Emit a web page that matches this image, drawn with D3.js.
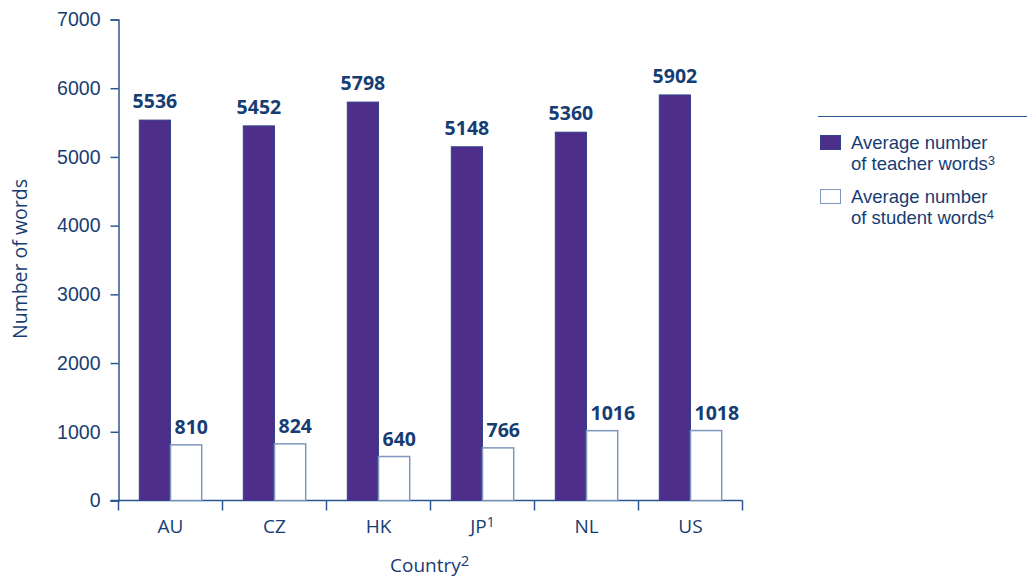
<!DOCTYPE html>
<html>
<head>
<meta charset="utf-8">
<script src="https://cdn.jsdelivr.net/npm/d3@7"></script>
<style>
  html, body { margin: 0; padding: 0; background: #fff; }
  svg { display: block; font-family: "Open Sans", "Noto Sans", sans-serif; }
  .legend-text { font-family: "Liberation Sans", Arial, sans-serif; }
</style>
</head>
<body>
<svg id="chart" width="1027" height="578"></svg>
<script>
// Word counts per lesson, by country
const countries = ["AU", "CZ", "HK", "JP", "NL", "US"];
const countrySup = ["", "", "", "1", "", ""];
const teacherWords = [5536, 5452, 5798, 5148, 5360, 5902];
const studentWords = [810, 824, 640, 766, 1016, 1018];
const yTicks = [0, 1000, 2000, 3000, 4000, 5000, 6000, 7000];

const textColor = "#163d73";
const axisColor = "#2b5890";
const teacherFill = "#4d2f8b";
const teacherStroke = "#33428a";
const barStroke = "#7d97bd";

const svg = d3.select("#chart");
const margin = { left: 118.5, top: 19.5, bottom: 500.5 };
const plotRight = 742.5;

const y = d3.scaleLinear().domain([0, 7000]).range([margin.bottom, margin.top]);
const x = d3.scaleBand().domain(countries).range([margin.left, plotRight]);
const barW = x.bandwidth() * 0.3;

// Y axis
const yAxis = svg.append("g")
  .attr("transform", `translate(${margin.left},0)`)
  .call(d3.axisLeft(y).tickValues(yTicks).tickSize(8).tickPadding(10).tickFormat(d3.format("d")));
yAxis.select(".domain").attr("stroke", axisColor).attr("stroke-width", 1.5);
yAxis.selectAll(".tick line").attr("stroke", axisColor).attr("stroke-width", 1.5);
yAxis.selectAll(".tick text")
  .attr("fill", textColor).style("font-size", "19.5px").attr("font-family", null);

// X axis: boundaries between countries carry the tick marks
const xAxisG = svg.append("g").attr("transform", `translate(0,${margin.bottom})`);
xAxisG.append("line")
  .attr("x1", margin.left - 8).attr("x2", plotRight)
  .attr("stroke", axisColor).attr("stroke-width", 1.5);
const bounds = countries.map(c => x(c)).concat([plotRight]);
xAxisG.selectAll("line.tk").data(bounds).join("line")
  .attr("class", "tk")
  .attr("x1", d => d).attr("x2", d => d)
  .attr("y1", 0).attr("y2", 10)
  .attr("stroke", axisColor).attr("stroke-width", 1.5);
const catLabels = xAxisG.selectAll("text.cat").data(countries).join("text")
  .attr("class", "cat")
  .attr("x", d => x(d) + x.bandwidth() / 2)
  .attr("y", 32.5)
  .attr("text-anchor", "middle")
  .attr("fill", textColor)
  .style("font-size", "19px")
  .text(d => d);
catLabels.append("tspan")
  .attr("dy", -6).style("font-size", "14px")
  .text((d, i) => countrySup[i]);

// Bars
const groups = svg.append("g").selectAll("g").data(countries).join("g")
  .attr("transform", d => `translate(${x(d) + x.bandwidth() / 2},0)`);

groups.append("rect")
  .attr("x", -barW).attr("width", barW)
  .attr("y", (d, i) => y(teacherWords[i]))
  .attr("height", (d, i) => y(0) - y(teacherWords[i]))
  .attr("fill", teacherFill).attr("stroke", teacherStroke).attr("stroke-width", 1);

groups.append("rect")
  .attr("x", 0).attr("width", barW)
  .attr("y", (d, i) => y(studentWords[i]))
  .attr("height", (d, i) => y(0) - y(studentWords[i]))
  .attr("fill", "#fff").attr("stroke", barStroke).attr("stroke-width", 1.5);

// Value labels
groups.append("text")
  .attr("x", -barW / 2)
  .attr("y", (d, i) => y(teacherWords[i]) - 12)
  .attr("text-anchor", "middle")
  .attr("fill", textColor).style("font-size", "19.5px").style("font-weight", "bold")
  .text((d, i) => teacherWords[i]);

groups.append("text")
  .attr("x", 4)
  .attr("y", (d, i) => y(studentWords[i]) - 11)
  .attr("text-anchor", "start")
  .attr("fill", textColor).style("font-size", "19.5px").style("font-weight", "bold")
  .text((d, i) => studentWords[i]);

// Axis titles
svg.append("text")
  .attr("transform", "translate(27,259) rotate(-90)")
  .attr("text-anchor", "middle")
  .attr("fill", textColor).style("font-size", "19.5px")
  .text("Number of words");

const xt = svg.append("text")
  .attr("x", 390).attr("y", 572)
  .attr("text-anchor", "start")
  .attr("fill", textColor).style("font-size", "19px")
  .text("Country");
xt.append("tspan").attr("dy", -6).style("font-size", "15px").text("2");

// Legend
const legend = svg.append("g");
legend.append("line")
  .attr("x1", 818).attr("x2", 1027).attr("y1", 116.5).attr("y2", 116.5)
  .attr("stroke", axisColor).attr("stroke-width", 1.2);

const legendItems = [
  { fill: teacherFill, stroke: teacherStroke, line1: "Average number", line2: "of teacher words", sup: "3", top: 135 },
  { fill: "#fff", stroke: barStroke, line1: "Average number", line2: "of student words", sup: "4", top: 189 }
];
legendItems.forEach(it => {
  legend.append("rect")
    .attr("x", 820.5).attr("y", it.top + 0.5).attr("width", 20).attr("height", 14)
    .attr("fill", it.fill).attr("stroke", it.stroke).attr("stroke-width", 1);
  // two-line label kept in one text element
  const t = legend.append("text")
    .attr("class", "legend-text")
    .attr("x", 851).attr("y", it.top + 14)
    .attr("fill", textColor).style("font-size", "18.5px");
  t.append("tspan").attr("x", 851).text(it.line1);
  t.append("tspan").attr("x", 851).attr("dy", 21).text(it.line2);
  t.append("tspan").attr("dy", -5).style("font-size", "13px").text(it.sup);
});
</script>
</body>
</html>
